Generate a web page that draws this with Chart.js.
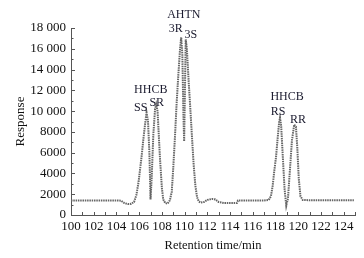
<!DOCTYPE html>
<html>
<head>
<meta charset="utf-8">
<script src="https://cdn.jsdelivr.net/npm/chart.js@4/dist/chart.umd.min.js"></script>
<style>
html,body{margin:0;padding:0;background:#fff;}
#wrap{width:364px;height:258px;position:relative;}
</style>
</head>
<body>
<div id="wrap"><canvas id="c" width="364" height="258"></canvas></div>
<script>
// Retention time (min) and detector response
const retentionTimes = [100.0,101.0,102.0,103.0,104.0,104.4,104.7,105.0,105.3,105.55,105.75,105.95,106.2,106.4,106.55,106.65,106.78,106.9,107.0,107.1,107.25,107.4,107.5,107.62,107.83,108.0,108.12,108.3,108.5,108.7,108.87,109.0,109.16,109.3,109.45,109.6,109.7,109.8,109.9,109.96,110.03,110.1,110.2,110.35,110.5,110.65,110.8,110.95,111.1,111.25,111.4,111.7,112.0,112.4,112.7,113.0,113.5,114.0,114.6,114.7,115.0,116.0,117.0,117.4,117.6,117.75,117.9,118.05,118.2,118.32,118.4,118.5,118.65,118.8,118.95,119.1,119.25,119.45,119.65,119.8,119.92,120.05,120.2,120.4,121.0,122.0,123.0,124.0,124.9];
const responseValues = [1400,1400,1400,1400,1400,1380,1150,1050,1080,1250,1900,3200,5500,7600,9000,9850,9000,6000,1500,3500,7800,10200,10650,10000,5500,2600,1500,1150,1100,1400,2250,4500,7700,10800,13500,16000,17100,15500,9500,7100,12000,16900,16000,13000,10300,7500,4800,2800,1700,1300,1200,1250,1450,1550,1500,1250,1150,1150,1150,1400,1400,1400,1400,1450,1800,2800,4300,5600,7500,8900,9360,8600,5500,2500,900,1600,4000,7200,8700,8500,6500,3500,1800,1450,1420,1420,1420,1420,1420];
const xTickValues = [100,102,104,106,108,110,112,114,116,118,120,122,124];
const yTickValues = [0,2000,4000,6000,8000,10000,12000,14000,16000,18000];
const yTickLabels = ['0','2000','4000','6000','8000','10 000','12 000','14 000','16 000','18 000'];
const peakLabelTexts = ['AHTN','3R','3S','HHCB','SS','SR','HHCB','RS','RR'];
const peakLabelTimes = [109.93,109.22,110.55,107.02,106.13,107.55,119.02,118.23,119.99];
const peakLabelResponses = [19250,17900,17320,12030,10300,10780,11360,9910,9140];

const points = retentionTimes.map((t,i)=>({x:t,y:responseValues[i]}));
const serif = "'Liberation Serif','Times New Roman',serif";

const inwardTicks = {
  id:'inwardTicks',
  afterDraw(chart){
    const ctx = chart.ctx, xs = chart.scales.x, ys = chart.scales.y;
    const a = chart.chartArea;
    ctx.save();
    ctx.strokeStyle = '#555';
    ctx.lineWidth = 1;
    for(let v=100; v<=125; v+=1){
      const px = Math.round(xs.getPixelForValue(v))+0.5;
      ctx.beginPath(); ctx.moveTo(px,a.bottom); ctx.lineTo(px,a.bottom-3); ctx.stroke();
    }
    for(let v=0; v<=18000; v+=1000){
      const py = Math.round(ys.getPixelForValue(v))+0.5;
      const len = (v%2000===0)?4:2.5;
      ctx.beginPath(); ctx.moveTo(a.left,py); ctx.lineTo(a.left+len,py); ctx.stroke();
    }
    ctx.fillStyle = '#1a1a2e';
    ctx.font = '12px ' + serif;
    ctx.textAlign = 'center';
    ctx.textBaseline = 'middle';
    peakLabelTexts.forEach((s,i)=>{
      ctx.fillText(s, xs.getPixelForValue(peakLabelTimes[i]), ys.getPixelForValue(peakLabelResponses[i]));
    });
    ctx.restore();
  }
};

new Chart(document.getElementById('c'),{
  type:'line',
  data:{datasets:[{data:points,borderColor:'#666',borderWidth:2,borderDash:[1.5,0.8],pointRadius:0,tension:0,fill:false}]},
  options:{
    responsive:false,animation:false,
    layout:{padding:{left:0,right:9,top:28,bottom:0}},
    plugins:{legend:{display:false},tooltip:{enabled:false}},
    scales:{
      x:{type:'linear',min:100,max:125,
        afterBuildTicks(s){s.ticks = xTickValues.map(v=>({value:v}));},
        afterFit(s){s.height = 43;},
        grid:{display:false,drawTicks:false},
        border:{display:true,color:'#555',width:1},
        ticks:{color:'#111',padding:4,maxRotation:0,autoSkip:false,font:{family:serif,size:13}},
        title:{display:true,text:'Retention time/min',color:'#111',font:{family:serif,size:12.5},padding:{top:0,bottom:5}}
      },
      y:{type:'linear',min:0,max:18000,
        afterBuildTicks(s){s.ticks = yTickValues.map(v=>({value:v}));},
        afterFit(s){s.width = 71;},
        grid:{display:false,drawTicks:false},
        border:{display:true,color:'#555',width:1},
        ticks:{color:'#111',padding:5,autoSkip:false,font:{family:serif,size:13},
          callback:(v)=>{const i=yTickValues.indexOf(v);return i>=0?yTickLabels[i]:'';}},
        title:{display:true,text:'Response',color:'#111',font:{family:serif,size:13},padding:{top:13,bottom:13}}
      }
    }
  },
  plugins:[inwardTicks]
});
</script>
</body>
</html>
